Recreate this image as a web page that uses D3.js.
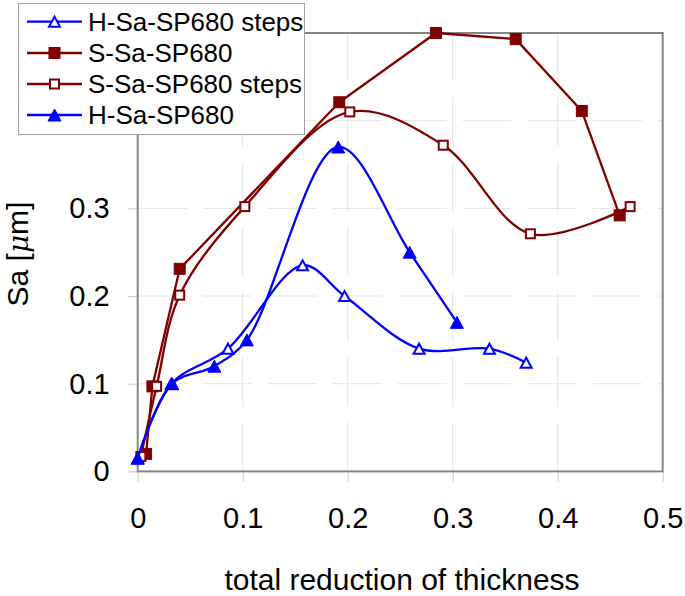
<!DOCTYPE html>
<html>
<head>
<meta charset="utf-8">
<script src="https://cdn.jsdelivr.net/npm/d3@7"></script>
<style>
  html, body { margin: 0; padding: 0; background: #fff; }
  svg { display: block; font-family: "Liberation Sans", Arial, sans-serif; }
</style>
</head>
<body>
<svg id="chart" width="685" height="596"></svg>
<script>
// ---- data ----
const seriesNames = ["H-Sa-SP680 steps", "S-Sa-SP680", "S-Sa-SP680 steps", "H-Sa-SP680"];

const hStepsX = [0, 0.032, 0.086, 0.157, 0.197, 0.268, 0.335, 0.370];
const hStepsY = [0.015, 0.100, 0.140, 0.235, 0.200, 0.140, 0.140, 0.124];

const sX = [0.008, 0.014, 0.040, 0.192, 0.284, 0.360, 0.423, 0.459];
const sY = [0.020, 0.097, 0.231, 0.421, 0.500, 0.493, 0.411, 0.292];

const sStepsX = [0.003, 0.018, 0.040, 0.102, 0.202, 0.291, 0.374, 0.469];
const sStepsY = [0.017, 0.097, 0.201, 0.302, 0.410, 0.372, 0.271, 0.302];

const hX = [0, 0.033, 0.073, 0.104, 0.191, 0.259, 0.304];
const hY = [0.015, 0.100, 0.120, 0.150, 0.370, 0.250, 0.170];

const xTicks = [0, 0.1, 0.2, 0.3, 0.4, 0.5];
const xTickLabels = ["0", "0.1", "0.2", "0.3", "0.4", "0.5"];
const yTicks = [0, 0.1, 0.2, 0.3, 0.4, 0.5];
// 0.4 and 0.5 labels are hidden behind the legend in the reference
const yTickLabels = ["0", "0.1", "0.2", "0.3", "", ""];

const xTitle = "total reduction of thickness";

// ---- layout ----
const svg = d3.select("#chart");
const L = 137.7, R = 662.7, T = 33, B = 471.4;
const x = d3.scaleLinear().domain([0, 0.5]).range([L, R]);
const y = d3.scaleLinear().domain([0, 0.5]).range([B, T]);

const RED = "#800000", BLUE = "#0000ff";

// gridlines (long dash, very light)
const grid = svg.append("g");
xTicks.filter(v => v > 0 && v < 0.5).forEach(v => {
  grid.append("line").attr("x1", x(v)).attr("x2", x(v)).attr("y1", B).attr("y2", T)
    .attr("stroke", "#e4e4e4").attr("stroke-width", 1).attr("stroke-dasharray", "49,16");
});
yTicks.filter(v => v > 0 && v < 0.5).forEach(v => {
  grid.append("line").attr("x1", L).attr("x2", R).attr("y1", y(v)).attr("y2", y(v))
    .attr("stroke", "#e4e4e4").attr("stroke-width", 1).attr("stroke-dasharray", "49,16");
});

// axes with D3
const xAxis = d3.axisBottom(x).tickValues(xTicks).tickFormat((d, i) => xTickLabels[i])
  .tickSizeInner(10).tickSizeOuter(0).tickPadding(26);
const yAxis = d3.axisLeft(y).tickValues(yTicks).tickFormat((d, i) => yTickLabels[i])
  .tickSizeInner(10).tickSizeOuter(0).tickPadding(18);

const gx = svg.append("g").attr("transform", `translate(0,${B})`).call(xAxis);
const gy = svg.append("g").attr("transform", `translate(${L},0)`).call(yAxis);
[gx, gy].forEach(g => {
  g.select(".domain").remove();
  g.selectAll(".tick line").attr("stroke", "#c8c8c8").attr("stroke-width", 1);
  g.selectAll(".tick text").attr("fill", "#000").attr("font-size", 29)
    .attr("font-family", "'Liberation Sans', Arial, sans-serif");
});
gx.selectAll(".tick text").attr("dy", "0.71em");
gy.selectAll(".tick text").filter(function () { return this.textContent === ""; }).remove();

// plot frame
svg.append("rect").attr("x", L).attr("y", T).attr("width", R - L).attr("height", B - T)
  .attr("fill", "none").attr("stroke", "#858585").attr("stroke-width", 2);

// axis titles
svg.append("text").attr("x", 402).attr("y", 590).attr("text-anchor", "middle")
  .attr("font-size", 30).attr("fill", "#000").text(xTitle);

const yt = svg.append("text").attr("transform", "translate(28,254) rotate(-90)")
  .attr("text-anchor", "middle").attr("font-size", 30).attr("fill", "#000");
yt.append("tspan").text("Sa [");
yt.append("tspan").attr("font-style", "italic").attr("font-family", "'DejaVu Serif', serif").attr("font-size", 28).text("\u03bc");
yt.append("tspan").text("m]");

// ---- series ----
function zip(xs, ys) { return xs.map((v, i) => ({ x: v, y: ys[i] })); }
const smooth = d3.line().x(d => x(d.x)).y(d => y(d.y)).curve(d3.curveCatmullRom.alpha(0.5));
const straight = d3.line().x(d => x(d.x)).y(d => y(d.y));

function triPath(cx, cy, w, h) {
  return `M${cx},${cy - h / 2}L${cx + w / 2},${cy + h / 2}L${cx - w / 2},${cy + h / 2}Z`;
}

function drawMarker(g, kind, cx, cy) {
  if (kind === "sqFilled") {
    g.append("rect").attr("x", cx - 5.5).attr("y", cy - 5.5).attr("width", 11).attr("height", 11)
      .attr("fill", RED).attr("stroke", RED).attr("stroke-width", 1);
  } else if (kind === "sqOpen") {
    g.append("rect").attr("x", cx - 4.5).attr("y", cy - 4.5).attr("width", 9).attr("height", 9)
      .attr("fill", "#fff").attr("stroke", RED).attr("stroke-width", 2);
  } else if (kind === "triFilled") {
    g.append("path").attr("d", triPath(cx, cy, 13, 12)).attr("fill", BLUE)
      .attr("stroke", BLUE).attr("stroke-width", 1).attr("stroke-linejoin", "miter");
  } else if (kind === "triOpen") {
    g.append("path").attr("d", triPath(cx, cy, 11, 10)).attr("fill", "#fff")
      .attr("stroke", BLUE).attr("stroke-width", 2).attr("stroke-linejoin", "miter");
  }
}

const series = [
  { data: zip(hStepsX, hStepsY), color: BLUE, line: smooth, marker: "triOpen" },
  { data: zip(sX, sY), color: RED, line: straight, marker: "sqFilled" },
  { data: zip(sStepsX, sStepsY), color: RED, line: smooth, marker: "sqOpen" },
  { data: zip(hX, hY), color: BLUE, line: smooth, marker: "triFilled" }
];

series.forEach(s => {
  const g = svg.append("g");
  g.append("path").attr("d", s.line(s.data)).attr("fill", "none")
    .attr("stroke", s.color).attr("stroke-width", 2.3).attr("stroke-linejoin", "round");
  s.data.forEach(d => drawMarker(g, s.marker, x(d.x), y(d.y)));
});

// ---- legend ----
const lg = svg.append("g");
lg.append("rect").attr("x", 18.5).attr("y", 3.5).attr("width", 286).attr("height", 131)
  .attr("fill", "#fff").attr("stroke", "#a0a0a0").attr("stroke-width", 1);
const rowY = [21.7, 53, 84, 115];
seriesNames.forEach((name, i) => {
  const s = series[i];
  const cy = rowY[i];
  lg.append("line").attr("x1", 27).attr("x2", 82).attr("y1", cy).attr("y2", cy)
    .attr("stroke", s.color).attr("stroke-width", 2.3);
  drawMarker(lg, s.marker, 54.5, cy);
  lg.append("text").attr("x", 88).attr("y", cy).attr("dy", "0.36em")
    .attr("font-size", 26).attr("fill", "#000").text(name);
});
</script>
</body>
</html>
